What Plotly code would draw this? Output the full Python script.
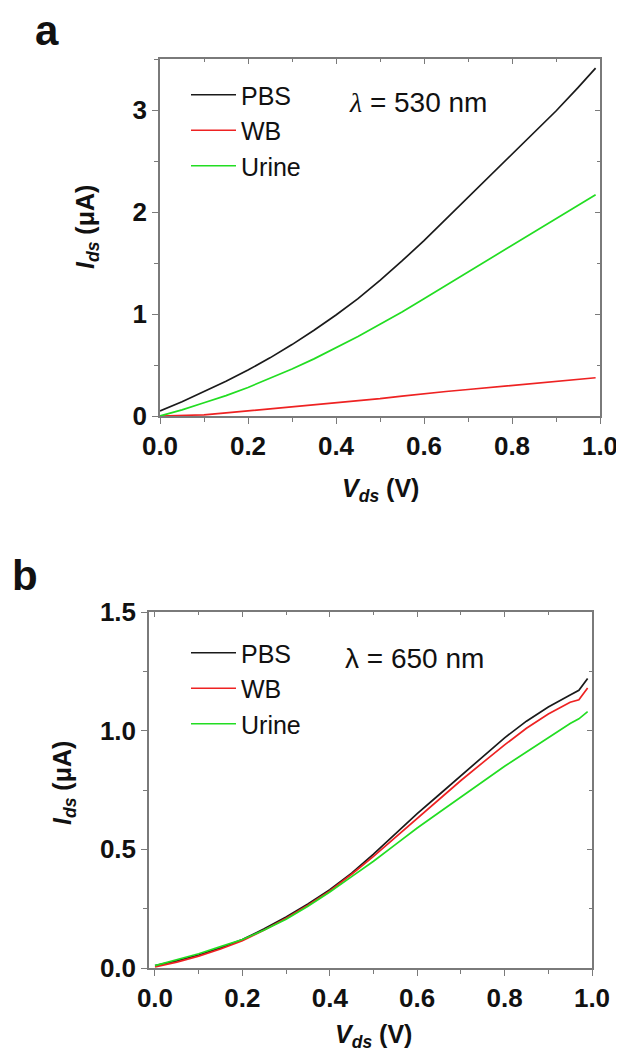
import plotly.graph_objects as go

# ---------------- data ----------------
# Panel a (lambda = 530 nm)
vds_a = [0.0, 0.05, 0.1, 0.15, 0.2, 0.25, 0.3, 0.35, 0.4, 0.45, 0.5, 0.55, 0.6, 0.65, 0.7, 0.75, 0.8, 0.85, 0.9, 0.95, 0.99]
pbs_a = [0.05, 0.14, 0.24, 0.34, 0.45, 0.57, 0.70, 0.84, 0.99, 1.15, 1.33, 1.52, 1.72, 1.93, 2.14, 2.355, 2.57, 2.78, 2.99, 3.22, 3.41]
wb_a = [0.0, 0.005, 0.012, 0.03, 0.05, 0.067, 0.085, 0.105, 0.13, 0.15, 0.17, 0.195, 0.22, 0.24, 0.26, 0.28, 0.30, 0.32, 0.34, 0.355, 0.375]
urine_a = [0.0, 0.06, 0.13, 0.20, 0.28, 0.37, 0.46, 0.56, 0.67, 0.78, 0.90, 1.02, 1.15, 1.28, 1.41, 1.54, 1.67, 1.80, 1.93, 2.06, 2.17]

# Panel b (lambda = 650 nm)
vds_b = [0.0, 0.05, 0.1, 0.15, 0.2, 0.25, 0.3, 0.35, 0.4, 0.45, 0.5, 0.55, 0.6, 0.65, 0.7, 0.75, 0.8, 0.85, 0.9, 0.95, 0.97, 0.99]
pbs_b = [0.01, 0.03, 0.055, 0.085, 0.12, 0.165, 0.215, 0.27, 0.33, 0.40, 0.48, 0.565, 0.65, 0.73, 0.81, 0.89, 0.97, 1.04, 1.10, 1.15, 1.17, 1.22]
wb_b = [0.005, 0.025, 0.05, 0.08, 0.115, 0.16, 0.21, 0.265, 0.325, 0.395, 0.47, 0.55, 0.63, 0.71, 0.79, 0.865, 0.94, 1.01, 1.07, 1.12, 1.13, 1.18]
urine_b = [0.01, 0.035, 0.06, 0.09, 0.12, 0.16, 0.205, 0.26, 0.32, 0.385, 0.45, 0.52, 0.59, 0.655, 0.72, 0.785, 0.85, 0.91, 0.97, 1.03, 1.05, 1.08]

series_names = ["PBS", "WB", "Urine"]
series_colors = ["#1a1a1a", "#ee2222", "#22dd22"]

# page body has an 8px margin -> figure placed at (8, 8)
OFF = 8
W, H = 616, 1049
def fx(px):
    return (px - OFF) / W
def fy(py):
    return 1 - (py - OFF) / H

fig = go.Figure()

for name, col, ys in zip(series_names, series_colors, [pbs_a, wb_a, urine_a]):
    fig.add_trace(go.Scatter(x=vds_a, y=ys, mode="lines", name=name,
                             line=dict(color=col, width=1.7),
                             xaxis="x", yaxis="y", legend="legend"))
for name, col, ys in zip(series_names, series_colors, [pbs_b, wb_b, urine_b]):
    fig.add_trace(go.Scatter(x=vds_b, y=ys, mode="lines", name=name,
                             line=dict(color=col, width=1.7),
                             xaxis="x2", yaxis="y2", legend="legend2"))
# empty traces so the mirrored top/right tick axes get drawn
for xa, ya in [("x3", "y3"), ("x4", "y4")]:
    fig.add_trace(go.Scatter(x=[None], y=[None], mode="lines", xaxis=xa, yaxis=ya,
                             showlegend=False, hoverinfo="skip"))

axcol = "#7a7a7a"
tickfont = dict(family="Liberation Sans, Arial", size=26, color="#111111", weight="bold")

def xax(dom, anchor, rng):
    return dict(domain=dom, anchor=anchor, range=rng, dtick=0.2, tick0=0,
                tickformat=".1f", showgrid=False, zeroline=False, automargin=False,
                showline=True, linecolor=axcol, linewidth=1.5, mirror=True,
                ticks="outside", ticklen=6, tickcolor=axcol, tickwidth=1.2,
                minor=dict(ticks="outside", dtick=0.1, tick0=0, ticklen=4, tickcolor=axcol),
                tickfont=tickfont)

def yax(dom, anchor, rng, dtick, minor, fmt):
    return dict(domain=dom, anchor=anchor, range=rng, dtick=dtick, tick0=0,
                tickformat=fmt, showgrid=False, zeroline=False, automargin=False,
                showline=True, linecolor=axcol, linewidth=1.5, mirror=True,
                ticks="outside", ticklen=6, tickcolor=axcol, tickwidth=1.2,
                minor=dict(ticks="outside", dtick=minor, tick0=0, ticklen=4, tickcolor=axcol),
                tickfont=tickfont)

# mirrored inside ticks on top / right (as in the original Origin frame)
def mirror_ax(overlay, anchor, side, rng, dtick, minor):
    return dict(overlaying=overlay, anchor=anchor, side=side, range=rng, dtick=dtick, tick0=0,
                showticklabels=False, showgrid=False, zeroline=False, showline=False,
                automargin=False, fixedrange=True,
                ticks="inside", ticklen=5, tickcolor=axcol, tickwidth=1.2,
                minor=dict(ticks="inside", dtick=minor, tick0=0, ticklen=3, tickcolor=axcol))

legfont = dict(family="Liberation Sans, Arial", size=25, color="#111")
fig.update_layout(
    width=W, height=H, margin=dict(l=0, r=0, t=0, b=0, autoexpand=False),
    paper_bgcolor="white", plot_bgcolor="white",
    xaxis=xax([fx(160), fx(600)], "y", [0, 1.0]),
    yaxis=yax([fy(416), fy(59)], "x", [0, 3.5], 1, 0.5, "d"),
    xaxis2=xax([fx(149), fx(592)], "y2", [-0.0137, 1.0]),
    yaxis2=yax([fy(968), fy(612)], "x2", [0, 1.5], 0.5, 0.25, ".1f"),
    xaxis3=mirror_ax("x", "y", "top", [0, 1.0], 0.2, 0.1),
    yaxis3=mirror_ax("y", "x", "right", [0, 3.5], 1, 0.5),
    xaxis4=mirror_ax("x2", "y2", "top", [-0.0137, 1.0], 0.2, 0.1),
    yaxis4=mirror_ax("y2", "x2", "right", [0, 1.5], 0.5, 0.25),
    legend=dict(x=fx(186), y=fy(72), xanchor="left", yanchor="top",
                bgcolor="rgba(0,0,0,0)", font=legfont,
                itemwidth=45, tracegroupgap=0),
    legend2=dict(x=fx(186), y=fy(630), xanchor="left", yanchor="top",
                 bgcolor="rgba(0,0,0,0)", font=legfont,
                 itemwidth=45, tracegroupgap=0),
    showlegend=True,
)

afont = dict(family="Liberation Sans, Arial", color="#111")
ann = [
    dict(text="<b>a</b>", x=fx(47), y=fy(30), font=dict(size=42, **afont)),
    dict(text="<b>b</b>", x=fx(25), y=fy(575), font=dict(size=42, **afont)),
    dict(text="<span style='font-family:Liberation Serif'><i>λ</i></span> = 530 nm", x=fx(347), y=fy(102),
         xanchor="left", font=dict(size=28, **afont)),
    dict(text="λ = 650 nm", x=fx(343), y=fy(658), xanchor="left", font=dict(size=28, **afont)),
    dict(text="<b><i>I</i><sub><i>ds</i></sub> (μA)</b>", x=fx(87), y=fy(227), textangle=-90,
         font=dict(size=25, **afont)),
    dict(text="<b><i>I</i><sub><i>ds</i></sub> (μA)</b>", x=fx(64), y=fy(783), textangle=-90,
         font=dict(size=25, **afont)),
    dict(text="<b><i>V</i><sub><i>ds</i></sub> (V)</b>", x=fx(380), y=fy(490),
         font=dict(size=25, **afont)),
    dict(text="<b><i>V</i><sub><i>ds</i></sub> (V)</b>", x=fx(374), y=fy(1036),
         font=dict(size=25, **afont)),
]
for a in ann:
    a.update(xref="paper", yref="paper", showarrow=False)
    a.setdefault("xanchor", "center")
    a.setdefault("yanchor", "middle")
fig.update_layout(annotations=ann)

fig.write_html("out.html")
